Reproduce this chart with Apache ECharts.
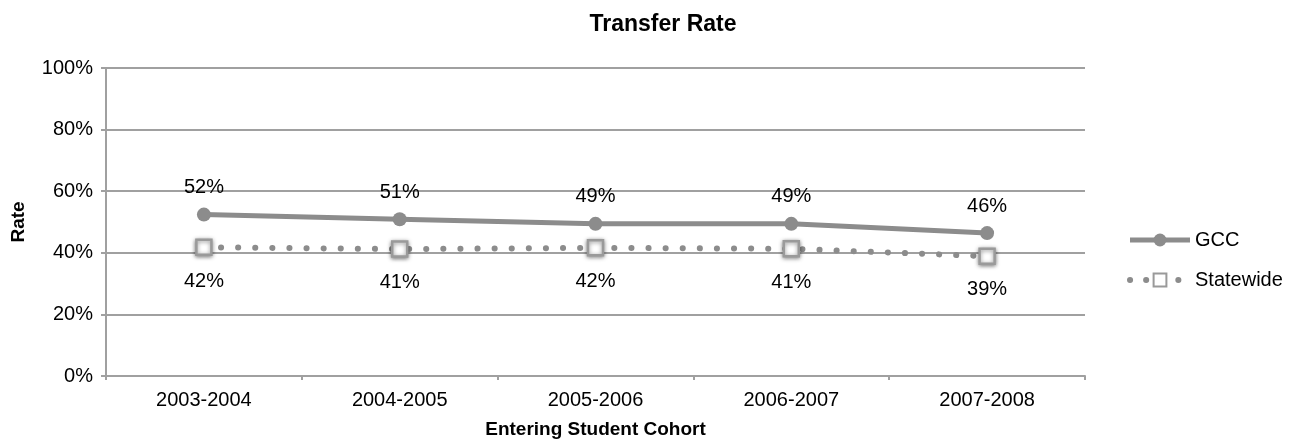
<!DOCTYPE html>
<html><head><meta charset="utf-8">
<script src="https://cdn.jsdelivr.net/npm/echarts@6/dist/echarts.min.js"></script>
<style>html,body{margin:0;padding:0;background:#fff}#c{width:1297px;height:447px}</style>
</head><body><div id="c"></div>
<script>
const categories = ['2003-2004','2004-2005','2005-2006','2006-2007','2007-2008'];
const gccValues = [52.4, 50.9, 49.4, 49.4, 46.4];
const statewideValues = [41.8, 41.2, 41.6, 41.3, 38.9];
const yTicks = [0, 20, 40, 60, 80, 100];

const FONT = "'Liberation Sans', Arial, Helvetica, sans-serif";
const GRAY = '#8c8c8c';
const chart = echarts.init(document.getElementById('c'));
chart.setOption({
  animation: false,
  textStyle: { fontFamily: FONT },
  title: { text: 'Transfer Rate', left: 658, top: 8, textAlign: 'center',
    textStyle: { fontSize: 23, fontWeight: 'bold', color: '#000', fontFamily: FONT } },
  legend: {
    orient: 'vertical', left: 1127, top: 230, padding: 0, itemGap: 20, itemWidth: 60, itemHeight: 16,
    textStyle: { fontSize: 20, color: '#000', fontFamily: FONT },
    data: [
      { name: 'GCC', lineStyle: { width: 5 } },
      { name: 'Statewide', lineStyle: { width: 6, type: [0.1, 16], cap: 'round' } }
    ]
  },
  grid: { left: 106, right: 212, top: 68, bottom: 71 },
  xAxis: {
    type: 'category', data: categories, boundaryGap: true,
    name: 'Entering Student Cohort', nameLocation: 'middle', nameGap: 44,
    nameTextStyle: { fontSize: 19, fontWeight: 'bold', color: '#000', fontFamily: FONT },
    axisLine: { lineStyle: { color: '#a0a0a0', width: 2 } },
    axisTick: { show: true, length: 4, alignWithLabel: false, lineStyle: { color: '#a0a0a0', width: 2 } },
    axisLabel: { fontSize: 20, color: '#000', margin: 14, fontFamily: FONT }
  },
  yAxis: {
    type: 'value', min: 0, max: 100, interval: 20,
    name: 'Rate', nameLocation: 'middle', nameGap: 78, nameRotate: 90,
    nameTextStyle: { fontSize: 19, fontWeight: 'bold', color: '#000', fontFamily: FONT },
    axisLine: { show: true, lineStyle: { color: '#a0a0a0', width: 2 } },
    axisTick: { show: true, length: 5, lineStyle: { color: '#a0a0a0', width: 2 } },
    axisLabel: { fontSize: 20, color: '#000', margin: 13, fontFamily: FONT,
      formatter: v => yTicks.includes(v) ? v + '%' : '' },
    splitLine: { show: true, lineStyle: { color: '#a0a0a0', width: 2 } }
  },
  series: [
    {
      name: 'GCC', type: 'line', data: gccValues,
      symbol: 'circle', symbolSize: 14,
      lineStyle: { color: GRAY, width: 5 },
      itemStyle: { color: GRAY },
      label: { show: true, position: 'top', distance: 10, fontSize: 20, color: '#000', fontFamily: FONT,
        formatter: p => Math.round(p.value) + '%' },
      z: 3
    },
    {
      name: 'Statewide', type: 'line', data: statewideValues,
      symbol: 'rect', symbolSize: 15,
      lineStyle: { color: GRAY, width: 6, type: [0.1, 17], cap: 'round' },
      itemStyle: { color: '#fff', borderColor: '#9a9a9a', borderWidth: 2.5,
        shadowBlur: 4, shadowColor: 'rgba(0,0,0,0.45)', shadowOffsetY: 1 },
      label: { show: true, position: 'bottom', distance: 15, fontSize: 20, color: '#000', fontFamily: FONT,
        formatter: p => Math.round(p.value) + '%' },
      z: 2
    }
  ]
});
</script></body></html>
